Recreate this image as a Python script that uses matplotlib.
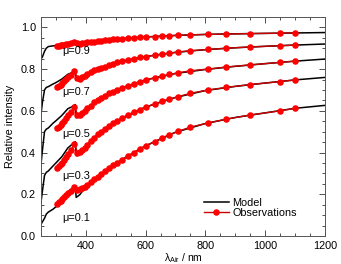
import matplotlib
matplotlib.use("Agg")
import matplotlib.pyplot as plt
from matplotlib.ticker import MultipleLocator

plt.rcParams['font.family'] = ['Liberation Sans', 'DejaVu Sans']
plt.rcParams['mathtext.fontset'] = 'custom'
plt.rcParams['mathtext.rm'] = 'Liberation Sans'
plt.rcParams['mathtext.it'] = 'Liberation Sans'

# model wavelengths (nm)
wl_model = [250, 255, 262, 268, 275, 290, 300, 320, 340, 355, 365, 368, 380, 400,
            450, 500, 600, 700, 800, 900, 1000, 1100, 1200]
model_09 = [0.848, 0.858, 0.885, 0.900, 0.908, 0.911, 0.913, 0.920, 0.926, 0.930, 0.934, 0.918,
            0.920, 0.926, 0.936, 0.943, 0.954, 0.961, 0.966, 0.969, 0.971, 0.973, 0.975]
model_07 = [0.580, 0.640, 0.700, 0.712, 0.716, 0.728, 0.735, 0.752, 0.775, 0.783, 0.792, 0.746,
            0.752, 0.775, 0.806, 0.830, 0.860, 0.880, 0.893, 0.902, 0.909, 0.915, 0.920]
model_05 = [0.340, 0.410, 0.500, 0.512, 0.518, 0.540, 0.552, 0.578, 0.610, 0.620, 0.630, 0.567,
            0.580, 0.605, 0.662, 0.699, 0.748, 0.779, 0.798, 0.813, 0.826, 0.838, 0.848]
model_03 = [0.159, 0.215, 0.290, 0.305, 0.312, 0.335, 0.350, 0.380, 0.422, 0.440, 0.452, 0.385,
            0.398, 0.430, 0.498, 0.548, 0.618, 0.664, 0.697, 0.717, 0.733, 0.748, 0.760]
model_01 = [0.056, 0.068, 0.085, 0.105, 0.115, 0.128, 0.140, 0.172, 0.212, 0.228, 0.236, 0.185,
            0.198, 0.236, 0.296, 0.347, 0.432, 0.497, 0.539, 0.568, 0.590, 0.612, 0.626]

# observation wavelengths (nm)
wl_obs = [303, 310, 316, 321, 328, 335, 342, 350, 362, 372, 380, 388, 396, 405, 416, 428,
          440, 450, 463, 478, 490, 505, 520, 540, 560, 580, 600, 630, 655, 680, 710, 750,
          810, 870, 950, 1050, 1100]
obs_09 = [0.909, 0.911, 0.913, 0.915, 0.917, 0.919, 0.921, 0.923, 0.932, 0.925, 0.922, 0.924,
          0.926, 0.928, 0.930, 0.932, 0.934, 0.936, 0.938, 0.940, 0.942, 0.944, 0.946, 0.948,
          0.950, 0.952, 0.954, 0.956, 0.958, 0.960, 0.962, 0.964, 0.966, 0.968, 0.970, 0.972, 0.973]
obs_07 = [0.713, 0.720, 0.726, 0.732, 0.742, 0.752, 0.762, 0.772, 0.790, 0.756, 0.752, 0.760,
          0.768, 0.776, 0.786, 0.794, 0.800, 0.806, 0.812, 0.820, 0.826, 0.832, 0.838, 0.844,
          0.850, 0.856, 0.860, 0.866, 0.872, 0.876, 0.882, 0.888, 0.894, 0.900, 0.906, 0.912, 0.915]
obs_05 = [0.516, 0.524, 0.532, 0.540, 0.552, 0.565, 0.578, 0.592, 0.620, 0.582, 0.580, 0.590,
          0.600, 0.612, 0.625, 0.640, 0.652, 0.662, 0.672, 0.684, 0.692, 0.702, 0.710, 0.720,
          0.730, 0.740, 0.748, 0.758, 0.766, 0.774, 0.782, 0.792, 0.800, 0.810, 0.820, 0.832, 0.838]
obs_03 = [0.324, 0.334, 0.344, 0.352, 0.364, 0.378, 0.394, 0.410, 0.440, 0.400, 0.402, 0.412,
          0.424, 0.438, 0.455, 0.472, 0.488, 0.498, 0.512, 0.528, 0.540, 0.552, 0.566, 0.580,
          0.594, 0.606, 0.618, 0.632, 0.646, 0.656, 0.668, 0.684, 0.700, 0.712, 0.726, 0.740, 0.748]
obs_01 = [0.155, 0.162, 0.170, 0.178, 0.188, 0.198, 0.208, 0.218, 0.236, 0.222, 0.224, 0.230,
          0.236, 0.244, 0.258, 0.272, 0.284, 0.296, 0.310, 0.326, 0.338, 0.352, 0.366, 0.384,
          0.400, 0.418, 0.432, 0.452, 0.470, 0.486, 0.502, 0.522, 0.542, 0.560, 0.580, 0.600, 0.612]

mu_labels = ['μ=0.9', 'μ=0.7', 'μ=0.5', 'μ=0.3', 'μ=0.1']
mu_label_y = [0.885, 0.688, 0.488, 0.288, 0.088]

models = [model_09, model_07, model_05, model_03, model_01]
obs = [obs_09, obs_07, obs_05, obs_03, obs_01]

fig = plt.figure(figsize=(3.41, 2.64), dpi=100)
ax = fig.add_axes([0.120, 0.106, 0.833, 0.830])

for i in range(len(models)):
    ax.plot(wl_model, models[i], color='black', lw=1.1,
            label='Model' if i == 0 else None, zorder=2)
    ax.plot(wl_obs, obs[i], color='#cc0000', lw=1.0, marker='o', ms=3.7,
            mfc='red', mec='red', label='Observations' if i == 0 else None, zorder=3)
    ax.text(320, mu_label_y[i], mu_labels[i], fontsize=7.8, ha='left', va='center')

ax.set_xlim(250, 1200)
ax.set_ylim(0, 1.05)
ax.xaxis.set_major_locator(MultipleLocator(200))
ax.xaxis.set_minor_locator(MultipleLocator(50))
ax.yaxis.set_major_locator(MultipleLocator(0.2))
ax.yaxis.set_minor_locator(MultipleLocator(0.05))
ax.set_xticks([400, 600, 800, 1000, 1200])
ax.yaxis.set_major_formatter(matplotlib.ticker.FormatStrFormatter('%.1f'))
ax.tick_params(which='both', direction='in', top=True, right=True, labelsize=7.8,
               width=0.6, colors='#333333', labelcolor='black')
ax.tick_params(which='major', length=4)
ax.tick_params(which='minor', length=2)
for s in ax.spines.values():
    s.set_linewidth(0.7)
    s.set_color('#555555')

ax.set_xlabel(r'$\lambda_{\rm Air}$ / nm', fontsize=7.5, labelpad=0)
ax.set_ylabel('Relative intensity', fontsize=7.8, labelpad=4)

ax.legend(loc='upper left', bbox_to_anchor=(0.555, 0.2), frameon=False, fontsize=7.8,
          handlelength=2.3, handletextpad=0.3, labelspacing=0.0, borderpad=0.0)

plt.savefig('out.png', dpi=100)
